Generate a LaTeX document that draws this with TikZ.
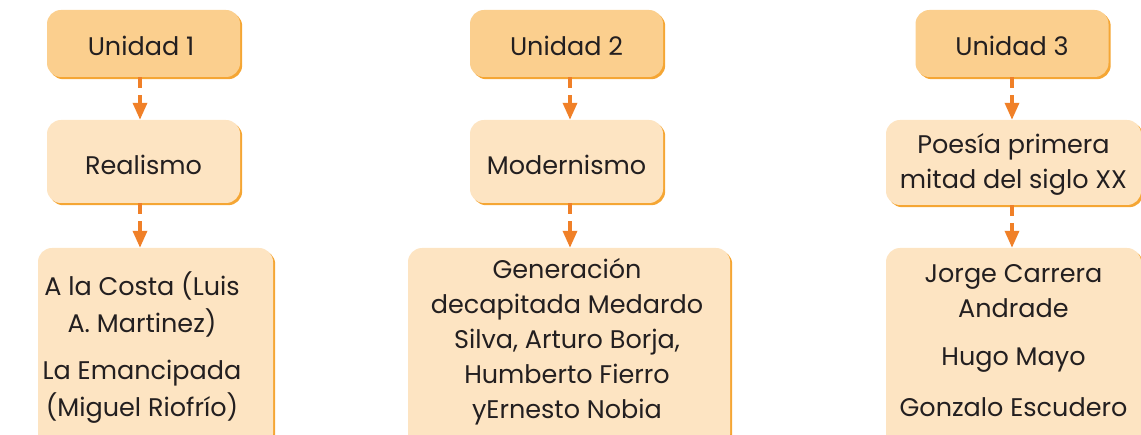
\documentclass[tikz,border=0pt]{standalone}
\usepackage{fontspec}
\setmainfont{Poppins}
\usetikzlibrary{shadows,arrows.meta}
\definecolor{topfill}{RGB}{251,207,142}
\definecolor{lowfill}{RGB}{253,228,194}
\definecolor{shadowcol}{RGB}{245,166,52}
\definecolor{arrowcol}{RGB}{240,128,40}
\definecolor{txt}{RGB}{35,31,32}
\tikzset{
  base/.style={rounded corners=14pt, inner sep=0pt, text=txt,
    drop shadow={shadow xshift=2.2pt, shadow yshift=-2.2pt, fill=shadowcol, opacity=1}},
  topbox/.style={base, fill=topfill},
  lowbox/.style={base, fill=lowfill},
  lbl/.style={text=txt, align=center, font=\fontsize{25.5}{37}\selectfont, inner sep=0pt},
  conn/.style={draw=arrowcol, line width=3.4pt, dash pattern=on 11pt off 7pt,
    -{Triangle[length=17pt,width=14pt]}, shorten >=0pt}
}
\begin{document}
\begin{tikzpicture}[x=1pt,y=-1pt]
\useasboundingbox (0,0) rectangle (1141,435);
% column 1
\node[topbox, minimum width=193pt, minimum height=67pt] (u1) at (143.5,43.5) {};
\node[lbl] (u1t) at (141,46) {Unidad 1};
\node[lowbox, minimum width=193pt, minimum height=83pt] (r1) at (143.5,161.5) {};
\node[lbl] (r1t) at (143.5,165) {Realismo};
\node[lowbox, minimum width=235pt, minimum height=200pt] (b1) at (155.5,348) {};
\node[lbl] (b1t) at (142,304) {A la Costa (Luis\\A. Martinez)};
\node[lbl] (b1u) at (142,392) {La Emancipada\\(Miguel Riofrío)};
% column 2
\node[topbox, minimum width=193pt, minimum height=67pt] (u2) at (566.5,43.5) {};
\node[lbl] (u2t) at (566.5,46) {Unidad 2};
\node[lowbox, minimum width=193pt, minimum height=83pt] (m2) at (566.5,161.5) {};
\node[lbl] (m2t) at (566.5,165) {Modernismo};
\node[lowbox, minimum width=322pt, minimum height=200pt] (b2) at (569,348) {};
\node[lbl, font=\fontsize{25.5}{35}\selectfont] (b2t) at (567,342) {Generación\\decapitada Medardo\\Silva, Arturo Borja,\\Humberto Fierro\\yErnesto Nobia};
% column 3
\node[topbox, minimum width=193pt, minimum height=67pt] (u3) at (1012,43.5) {};
\node[lbl] (u3t) at (1012,46) {Unidad 3};
\node[lowbox, minimum width=255pt, minimum height=85pt] (p3) at (1013.5,162.5) {};
\node[lbl, font=\fontsize{25.5}{35}\selectfont] (p3t) at (1013.5,164) {Poesía primera\\mitad del siglo XX};
\node[lowbox, minimum width=255pt, minimum height=200pt] (b3) at (1013.5,348) {};
\node[lbl, font=\fontsize{25.5}{35}\selectfont] (b3t) at (1013.5,291) {Jorge Carrera\\Andrade};
\node[lbl] (b3u) at (1013.5,360) {Hugo Mayo};
\node[lbl] (b3v) at (1013.5,407) {Gonzalo Escudero};
% connectors
\draw[conn] (u1.south -| 140,0) -- (r1.north -| 140,0);
\draw[conn] (r1.south -| 140,0) -- (b1.north -| 140,0);
\draw[conn] (u2.south -| 570,0) -- (m2.north -| 570,0);
\draw[conn] (m2.south -| 570,0) -- (b2.north -| 570,0);
\draw[conn] (u3) -- (u3 |- p3.north);
\draw[conn] (u3 |- p3.south) -- (u3 |- b3.north);
\end{tikzpicture}
\end{document}
